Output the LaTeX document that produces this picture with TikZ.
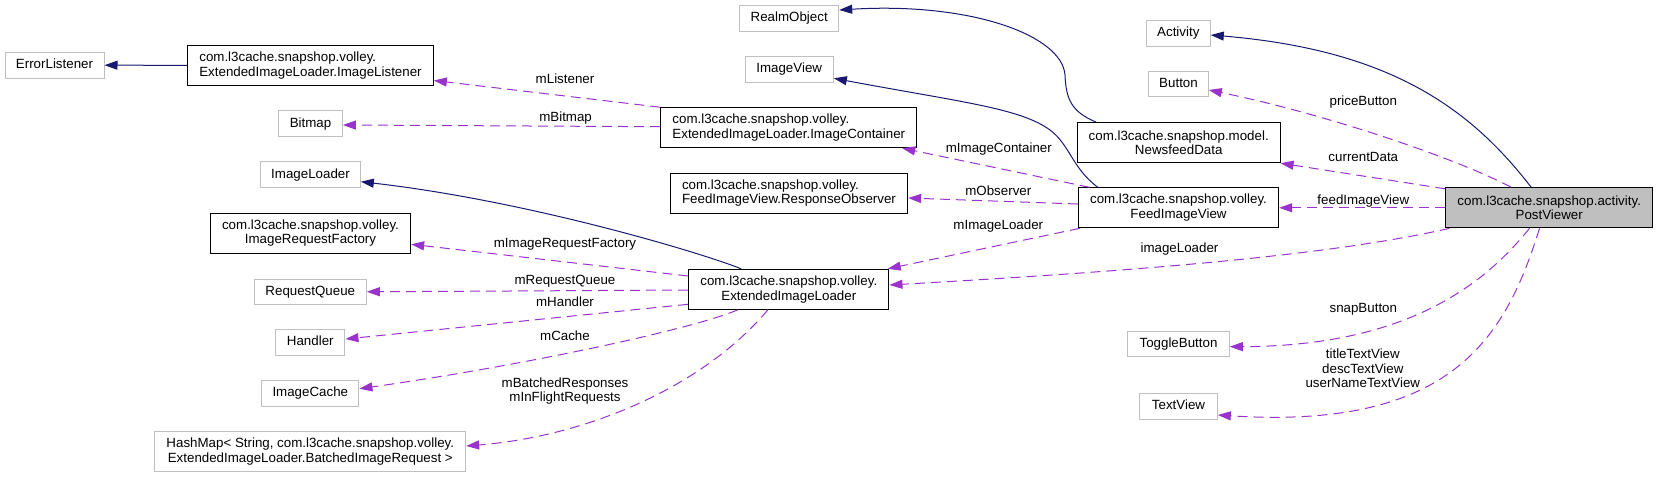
\documentclass[tikz,border=0pt]{standalone}
\usepackage{fontspec}
\setmainfont{Liberation Sans}
\usetikzlibrary{arrows.meta}
\definecolor{inhblue}{HTML}{191970}
\definecolor{usepurple}{HTML}{9A32CD}
\definecolor{boxgray}{HTML}{BFBFBF}
\newcommand\dfont{\fontsize{13.33pt}{14.7pt}\selectfont}
\begin{document}
\begin{tikzpicture}[x=1pt,y=-1pt,
 box/.style={draw=black, line width=1pt, fill=white, inner sep=0pt, font=\dfont, align=center, minimum height=40pt},
 lbox/.style={box, align=left},
 gbox/.style={box, draw=boxgray, minimum height=25.6pt, text height=9.6pt, text depth=2.8pt},
 inh/.style={draw=inhblue, line width=1pt, -{Triangle[length=13pt,width=9pt]}},
 usep/.style={draw=usepurple, line width=1pt, dash pattern=on 10pt off 6pt, -{Triangle[length=13pt,width=9pt]}},
 lbl/.style={font=\dfont, inner sep=0pt, align=center},
 lbla/.style={lbl, text height=9.6pt, text depth=2.8pt}]
\useasboundingbox (0,0) rectangle (1659,477);
% nodes
\node[gbox, minimum width=99pt] (errl) at (54.5,65.2) {ErrorListener};
\node[lbox, minimum width=245.7pt] (ilis) at (310.5,65.3) {com.l3cache.snapshop.volley.\\ExtendedImageLoader.ImageListener};
\node[gbox, minimum width=63.7pt] (bitmap) at (310.5,123.7) {Bitmap};
\node[gbox, minimum width=99.7pt] (imgldr) at (310.5,174.7) {ImageLoader};
\node[box, minimum width=200.3pt] (irf) at (310.5,233) {com.l3cache.snapshop.volley.\\ImageRequestFactory};
\node[gbox, minimum width=112pt] (rq) at (310.3,291.8) {RequestQueue};
\node[gbox, minimum width=69.3pt] (handler) at (310.3,342.3) {Handler};
\node[gbox, minimum width=97.3pt] (icache) at (310.3,393.2) {ImageCache};
\node[box, draw=boxgray, minimum width=310.7pt] (hashmap) at (310.3,451.8) {HashMap< String, com.l3cache.snapshop.volley.\\ExtendedImageLoader.BatchedImageRequest >};
\node[gbox, minimum width=99pt] (realm) at (789.2,18.5) {RealmObject};
\node[gbox, minimum width=88.3pt] (imgview) at (789.2,69.3) {ImageView};
\node[lbox, minimum width=256.3pt] (icont) at (788.8,127.7) {com.l3cache.snapshop.volley.\\ExtendedImageLoader.ImageContainer};
\node[lbox, minimum width=237.3pt] (robs) at (789,193) {com.l3cache.snapshop.volley.\\FeedImageView.ResponseObserver};
\node[box, minimum width=200.3pt] (eil) at (788.8,289.3) {com.l3cache.snapshop.volley.\\ExtendedImageLoader};
\node[gbox, minimum width=64pt] (activity) at (1178.3,33.3) {Activity};
\node[gbox, minimum width=59.5pt] (button) at (1178.5,83.8) {Button};
\node[box, minimum width=202.7pt] (newsfeed) at (1178.7,142.7) {com.l3cache.snapshop.model.\\NewsfeedData};
\node[box, minimum width=200.4pt] (feediv) at (1178.5,207.8) {com.l3cache.snapshop.volley.\\FeedImageView};
\node[box, fill=boxgray, minimum width=207pt] (postviewer) at (1549.2,207.8) {com.l3cache.snapshop.activity.\\PostViewer};
\node[gbox, minimum width=101.6pt] (toggle) at (1178.5,344) {ToggleButton};
\node[gbox, minimum width=77.6pt] (textview) at (1178.5,406.3) {TextView};
% edges
\draw[inh] (ilis.west) -- (errl.east);
\draw[usep] (icont.north west) -- ([yshift=5.3pt]ilis.south east);
\draw[usep] ([yshift=1pt]icont.west) -- ([yshift=-1.3pt]bitmap.east);
\draw[inh] ([xshift=53pt]eil.north west) .. controls (705,254) and (530,201) .. ([yshift=-7pt]imgldr.east);
\draw[usep] ([yshift=13.3pt]eil.west) -- ([yshift=-11.3pt]irf.east);
\draw[usep] ([yshift=-0.7pt]eil.west) -- (rq.east);
\draw[usep] ([yshift=-15pt]eil.west) -- ([yshift=3.3pt]handler.east);
\draw[usep] ([xshift=49.7pt]eil.south west) .. controls (690,330) and (520,366) .. ([yshift=4.5pt]icache.east);
\draw[usep] ([xshift=79.7pt]eil.south west) .. controls (705,385) and (590,436) .. ([yshift=5.8pt]hashmap.east);
\draw[inh] ([xshift=19.4pt]newsfeed.north west) .. controls (1072,112) and (1066,100) .. (1065,75) .. controls (1062,35) and (970,2) .. ([yshift=8.5pt]realm.east);
\draw[inh] ([xshift=20pt]feediv.north west) .. controls (1072,168) and (1070,145) .. (1050,130) .. controls (1020,108) and (960,102) .. ([yshift=-9pt]imgview.east);
\draw[usep] ([xshift=11.7pt]feediv.north west) -- ([xshift=-15.2pt]icont.south east);
\draw[usep] ([yshift=3.8pt]feediv.west) -- ([yshift=-5pt]robs.east);
\draw[usep] ([xshift=2pt]feediv.south west) -- ([xshift=-1.7pt]eil.north east);
\draw[inh] ([xshift=86pt]postviewer.north west) .. controls (1470,108) and (1390,50) .. ([yshift=-1.7pt]activity.east);
\draw[usep] ([xshift=66pt]postviewer.north west) .. controls (1460,160) and (1330,115) .. ([yshift=-6.2pt]button.east);
\draw[usep] ([yshift=-1.5pt]postviewer.north west) -- (newsfeed.south east);
\draw[usep] (postviewer.west) -- (feediv.east);
\draw[usep] ([xshift=4.3pt]postviewer.south west) .. controls (1320,258) and (1100,273) .. ([yshift=4.3pt]eil.east);
\draw[usep] ([xshift=84.3pt]postviewer.south west) .. controls (1480,290) and (1400,346) .. ([yshift=-2.7pt]toggle.east);
\draw[usep] ([xshift=94.3pt]postviewer.south west) .. controls (1505,340) and (1450,430) .. ([yshift=-8.7pt]textview.east);
% labels
\node[lbla] (lmlis) at (565,80) {mListener};
\node[lbla] (lmbit) at (565.6,118) {mBitmap};
\node[lbla] (lmirf) at (565,244.5) {mImageRequestFactory};
\node[lbla] (lmrq) at (565,281.5) {mRequestQueue};
\node[lbla] (lmh) at (565,303.5) {mHandler};
\node[lbla] (lmc) at (565,337.5) {mCache};
\node[lbl] (lmb) at (565,391) {mBatchedResponses\\mInFlightRequests};
\node[lbla] (lmic) at (998.8,149) {mImageContainer};
\node[lbla] (lmo) at (998.3,192) {mObserver};
\node[lbla] (lmil) at (998.3,226.3) {mImageLoader};
\node[lbla] (lpb) at (1363.3,102) {priceButton};
\node[lbla] (lcd) at (1363.3,158) {currentData};
\node[lbla] (lfiv) at (1363.3,200.6) {feedImageView};
\node[lbla] (lil) at (1179.5,249) {imageLoader};
\node[lbla] (lsb) at (1363.3,308.6) {snapButton};
\node[lbl] (ltv) at (1362.8,368.5) {titleTextView\\descTextView\\userNameTextView};
\end{tikzpicture}
\end{document}
